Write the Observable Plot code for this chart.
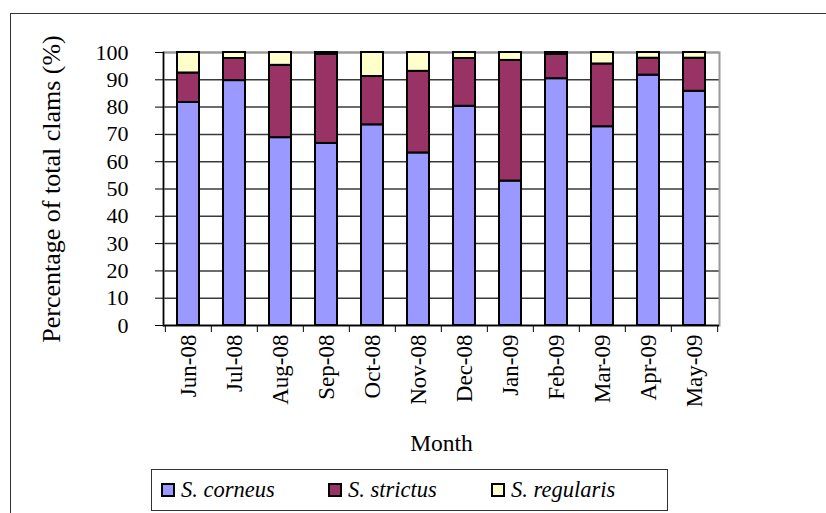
<!DOCTYPE html>
<html>
<head>
<meta charset="utf-8">
<script src="https://cdn.jsdelivr.net/npm/d3@7"></script>
<script src="https://cdn.jsdelivr.net/npm/@observablehq/plot@0.6"></script>
<style>
  body { margin: 0; background: #fff; }
  #wrap { position: relative; width: 826px; height: 513px; overflow: hidden; color: #000;
          font-family: "Liberation Serif", "Times New Roman", serif; }
  #frame { position: absolute; left: 10px; top: 13px; width: 840px; height: 540px;
           border-left: 1.5px solid #333; border-top: 1.5px solid #333; }
  #chart { position: absolute; left: 0; top: 0; }
  #legend { position: absolute; left: 151px; top: 469px; width: 515px; height: 40px;
            border: 1px solid #333; background: #fff; }
  .item { position: absolute; top: 0; height: 40px; display: flex; align-items: center;
          font-style: italic; font-size: 22.5px; font-family: "Liberation Serif", "Times New Roman", serif; }
  .sw { width: 10px; height: 10px; border: 2px solid #000; margin-right: 6px; }
</style>
</head>
<body>
<div id="wrap">
  <div id="frame"></div>
  <div id="chart"></div>
  <div id="legend"></div>
</div>
<script>
const months = ["Jun-08","Jul-08","Aug-08","Sep-08","Oct-08","Nov-08","Dec-08","Jan-09","Feb-09","Mar-09","Apr-09","May-09"];
const species = ["S. corneus","S. strictus","S. regularis"];
const corneus   = [81.7, 89.7, 68.8, 66.7, 73.5, 63.2, 80.3, 52.9, 90.4, 72.8, 91.7, 85.8];
const strictus  = [10.8,  8.1, 26.5, 32.6, 17.7, 29.9, 17.5, 44.2,  8.9, 23.0,  6.2, 12.1];
const regularis = [ 7.5,  2.2,  4.7,  0.7,  8.8,  6.9,  2.2,  2.9,  0.7,  4.2,  2.1,  2.1];
const colors = ["#9999ff", "#993366", "#ffffcc"];
const yTicks = [0, 10, 20, 30, 40, 50, 60, 70, 80, 90, 100];
const yTitle = "Percentage of total clams (%)";
const xTitle = "Month";

const series = [corneus, strictus, regularis];
const data = months.flatMap((m, i) => species.map((s, k) => ({month: m, species: s, value: series[k][i]})));

const W = 826, H = 513, ML = 163, MR = 107, MT = 52, MB = 188;
const pIn = 0.53, pOut = pIn / 2;
const step = (W - ML - MR) / (months.length - pIn + 2 * pOut);
const font = "'Liberation Serif', 'Times New Roman', serif";

const chart = Plot.plot({
  width: W, height: H,
  marginLeft: ML, marginRight: MR, marginTop: MT, marginBottom: MB,
  style: {fontFamily: font, background: "transparent", color: "#000"},
  x: {domain: months, paddingInner: pIn, paddingOuter: pOut, axis: null},
  y: {domain: [0, 100], axis: null},
  color: {domain: species, range: colors},
  marks: [
    Plot.gridY(yTicks, {stroke: "#3a3a3a", strokeOpacity: 1, strokeWidth: 1.5}),
    Plot.frame({stroke: "#999", strokeWidth: 2}),
    Plot.barY(data, Plot.stackY({x: "month", y: "value", fill: "species", stroke: "#000", strokeWidth: 2})),
    Plot.ruleY([0], {stroke: "#000", strokeWidth: 1.5}),
    Plot.frame({anchor: "left", stroke: "#000", strokeWidth: 1.5}),
    Plot.axisY(yTicks, {tickSize: 8, tickPadding: 27, fontSize: 22, stroke: "#000", label: null}),
    Plot.axisX(months, {tickSize: 0, tickRotate: -90, tickPadding: 9, fontSize: 23, label: null}),
    Plot.axisX(months, {tickSize: 7, tickFormat: () => "", dx: -step / 2, stroke: "#000", label: null}),
    Plot.axisX([months[months.length - 1]], {tickSize: 7, tickFormat: () => "", dx: step / 2, stroke: "#000", label: null}),
    Plot.text([yTitle], {frameAnchor: "left", rotate: -90, dx: -112, fontSize: 26, textAnchor: "middle", lineAnchor: "middle"}),
    Plot.text([xTitle], {frameAnchor: "bottom", dy: 118, fontSize: 23.5, textAnchor: "middle", lineAnchor: "middle"})
  ]
});
document.getElementById("chart").appendChild(chart);

const legend = document.getElementById("legend");
const lx = [9, 176, 339];
species.forEach((s, k) => {
  const it = document.createElement("div");
  it.className = "item";
  it.style.left = lx[k] + "px";
  const sw = document.createElement("div");
  sw.className = "sw";
  sw.style.background = colors[k];
  const t = document.createElement("span");
  t.textContent = s;
  it.appendChild(sw); it.appendChild(t);
  legend.appendChild(it);
});
</script>
</body>
</html>
